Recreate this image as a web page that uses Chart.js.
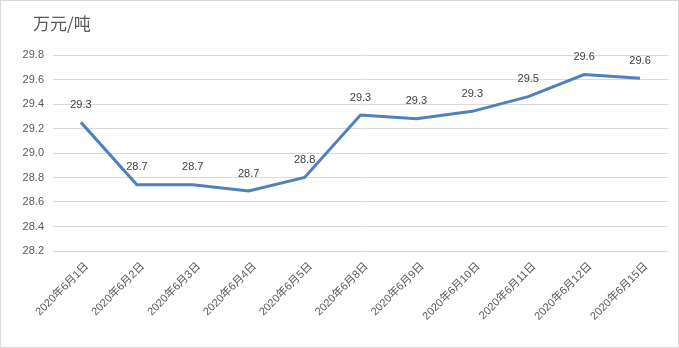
<!DOCTYPE html>
<html>
<head>
<meta charset="utf-8">
<script src="https://cdn.jsdelivr.net/npm/chart.js@4.4.1/dist/chart.umd.min.js"></script>
<style>
  html, body { margin: 0; padding: 0; background: #fff; }
  .wrap {
    position: relative;
    width: 679px;
    height: 348px;
    box-sizing: border-box;
    border: 1px solid #d9d9d9;
  }
  .unit {
    position: absolute;
    left: 32px;
    top: 9px;
    font: 17px "Noto Sans CJK SC", sans-serif;
    color: #595959;
  }
  canvas { position: absolute; left: 0; top: 0; }
</style>
</head>
<body>
<div class="wrap">
  <canvas id="priceChart" width="677" height="346"></canvas>
  <div class="unit">万元/吨</div>
</div>
<script>
// Dates and prices (万元/吨)
const dates = [
  '2020年6月1日', '2020年6月2日', '2020年6月3日', '2020年6月4日', '2020年6月5日',
  '2020年6月8日', '2020年6月9日', '2020年6月10日', '2020年6月11日', '2020年6月12日',
  '2020年6月15日'
];
const prices = [29.25, 28.74, 28.74, 28.69, 28.80, 29.31, 29.28, 29.34, 29.46, 29.64, 29.61];
const yMin = 28.2;
const yMax = 29.8;
const yStep = 0.2;

const labelFont = '11px "Liberation Sans", "Noto Sans CJK SC", sans-serif';

// Value labels above each point
const pointLabels = {
  id: 'pointLabels',
  afterDatasetsDraw(chart) {
    const ctx = chart.ctx;
    const meta = chart.getDatasetMeta(0);
    ctx.save();
    ctx.font = labelFont;
    ctx.fillStyle = '#404040';
    ctx.textAlign = 'center';
    ctx.textBaseline = 'bottom';
    meta.data.forEach((pt, i) => {
      ctx.fillText(prices[i].toFixed(1), pt.x, pt.y - 12);
    });
    ctx.restore();
  }
};

function initChart() {
  new Chart(document.getElementById('priceChart'), {
    type: 'line',
    data: {
      labels: dates,
      datasets: [{
        data: prices,
        borderColor: '#4f81bd',
        borderWidth: 3,
        pointRadius: 0,
        tension: 0,
        fill: false
      }]
    },
    options: {
      responsive: false,
      animation: false,
      layout: { padding: { top: 54, right: 10, left: 0, bottom: 0 } },
      plugins: {
        legend: { display: false },
        tooltip: { enabled: false }
      },
      scales: {
        x: {
          offset: true,
          grid: { display: false, drawTicks: false },
          border: { display: false },
          ticks: {
            color: '#595959',
            font: { family: '"Liberation Sans", "Noto Sans CJK SC", sans-serif', size: 11 },
            minRotation: 45,
            maxRotation: 45,
            autoSkip: false,
            labelOffset: 6,
            padding: 9
          },
          afterFit(scale) { scale.height = 96; }
        },
        y: {
          min: yMin,
          max: yMax,
          grid: { color: '#d9d9d9', drawTicks: false },
          border: { display: false },
          ticks: {
            stepSize: yStep,
            color: '#595959',
            font: { family: '"Liberation Sans", sans-serif', size: 11 },
            padding: 9,
            callback: v => v.toFixed(1)
          },
          afterFit(scale) { scale.width = 52; }
        }
      }
    },
    plugins: [pointLabels]
  });
}

document.addEventListener('DOMContentLoaded', initChart);
</script>
</body>
</html>
